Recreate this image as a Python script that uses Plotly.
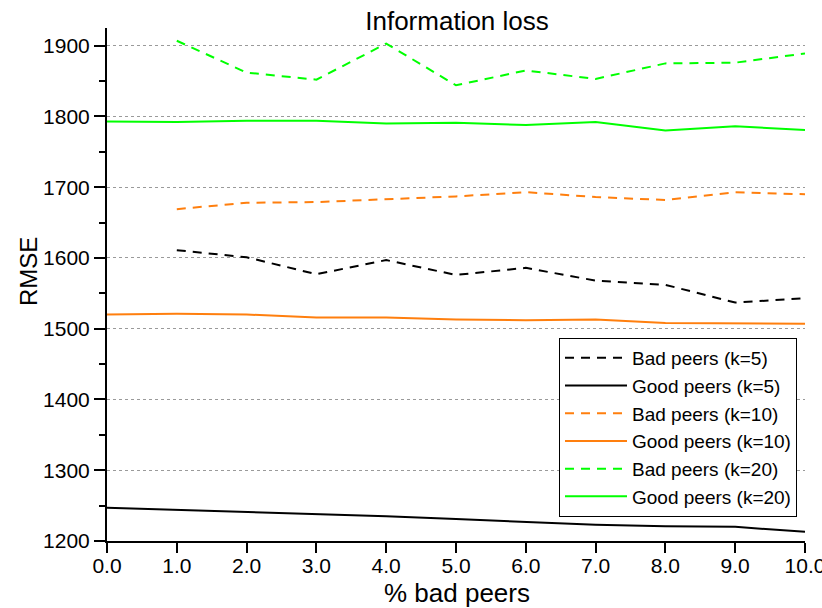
import plotly.graph_objects as go

x_all = [0, 1, 2, 3, 4, 5, 6, 7, 8, 9, 10]
x_bad = [1, 2, 3, 4, 5, 6, 7, 8, 9, 10]

bad_k5 = [1611, 1601, 1577, 1597, 1576, 1586, 1568, 1562, 1537, 1543]
good_k5 = [1247, 1244, 1242, 1238, 1235, 1231, 1227, 1223, 1221, 1220, 1213]
bad_k10 = [1669, 1678, 1679, 1683, 1687, 1693, 1686, 1682, 1693, 1690]
good_k10 = [1520, 1521, 1520, 1516, 1516, 1513, 1512, 1513, 1508, 1507, 1507]
bad_k20 = [1907, 1862, 1852, 1903, 1844, 1865, 1853, 1875, 1876, 1889]
good_k20 = [1793, 1792, 1794, 1794, 1790, 1791, 1788, 1792, 1780, 1786, 1781]

BLACK = "#000000"
ORANGE = "#FF7F0E"
GREEN = "#00FF00"
FONT = "Liberation Sans, Arial, sans-serif"
DASH = "9px,7px"

series = [
    ("Bad peers (k=5)", x_bad, bad_k5, BLACK, DASH),
    ("Good peers (k=5)", x_all, good_k5, BLACK, "solid"),
    ("Bad peers (k=10)", x_bad, bad_k10, ORANGE, DASH),
    ("Good peers (k=10)", x_all, good_k10, ORANGE, "solid"),
    ("Bad peers (k=20)", x_bad, bad_k20, GREEN, DASH),
    ("Good peers (k=20)", x_all, good_k20, GREEN, "solid"),
]

fig = go.Figure()
for name, xs, ys, color, dash in series:
    fig.add_trace(go.Scatter(x=xs, y=ys, mode="lines", name=name,
                             line=dict(color=color, width=2, dash=dash)))

L, R, T, B = 107, 805, 28, 541
W, H = 822, 608

fig.update_layout(
    width=W, height=H,
    margin=dict(l=L, r=W - R, t=T, b=H - B, autoexpand=False),
    paper_bgcolor="white", plot_bgcolor="white",
    font=dict(family=FONT, color="black", size=21),
    title=dict(text="Information loss", x=457 / W, xanchor="center",
               y=1 - 21 / H, yanchor="middle", font=dict(size=26)),
    showlegend=True,
    legend=dict(xref="container", yref="container",
                x=559 / W, y=1 - 338 / H, xanchor="left", yanchor="top",
                bordercolor="black", borderwidth=1, bgcolor="white",
                font=dict(size=19), tracegroupgap=0, itemwidth=62,
                entrywidth=259),
    annotations=[
        dict(text="% bad peers", xref="paper", yref="paper",
             x=(457 - L) / (R - L), y=(B - 593) / (B - T),
             xanchor="center", yanchor="middle", showarrow=False,
             font=dict(size=26)),
        dict(text="RMSE", xref="paper", yref="paper",
             x=(28 - L) / (R - L), y=(B - 272) / (B - T),
             xanchor="center", yanchor="middle", showarrow=False,
             textangle=-90, font=dict(size=24)),
    ],
)
fig.update_xaxes(range=[0, 10], dtick=1, tickformat=".1f", automargin=False,
                 ticklabeloverflow="allow", ticklabelstandoff=-5,
                 showline=True, linecolor="black", linewidth=2,
                 ticks="outside", ticklen=10, tickwidth=2, tickcolor="black",
                 showgrid=False, zeroline=False)
fig.update_yaxes(range=[1200, 1925], dtick=100, tick0=1200, automargin=False,
                 showline=True, linecolor="black", linewidth=2,
                 ticks="outside", ticklen=11, tickwidth=2, tickcolor="black",
                 showgrid=True, gridcolor="#9a9a9a", griddash="dot", gridwidth=1,
                 zeroline=False,
                 minor=dict(dtick=50, ticks="outside", ticklen=6, tickwidth=2,
                            tickcolor="black", showgrid=False))

fig.write_html("out.html")
